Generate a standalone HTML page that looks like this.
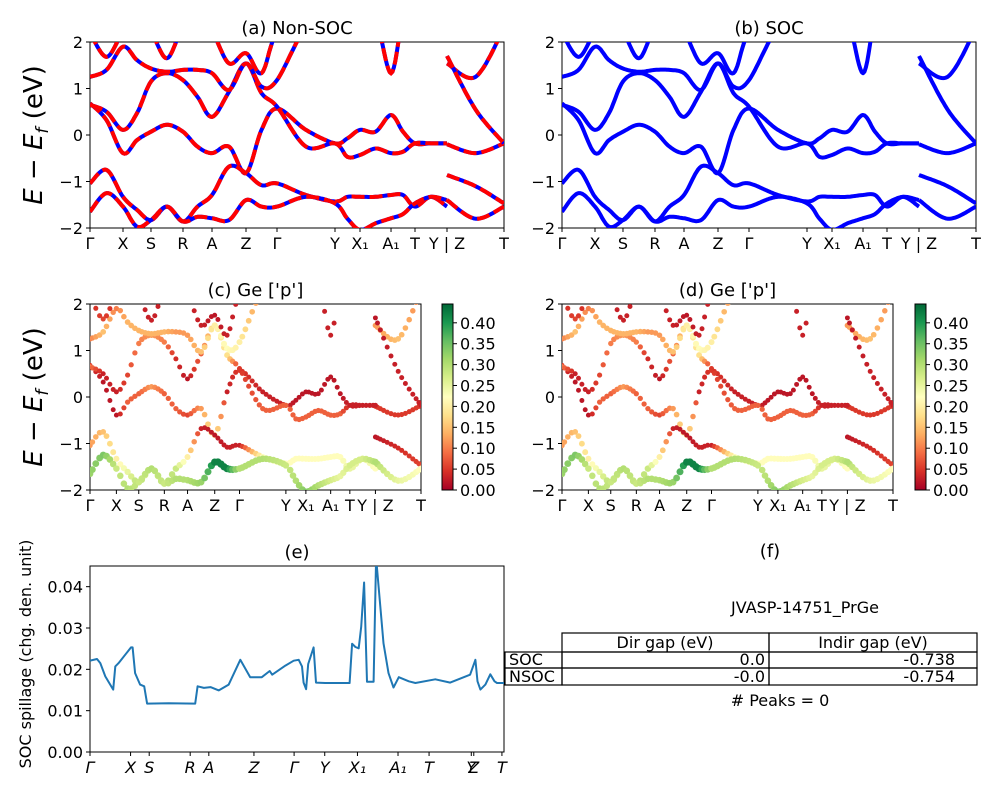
<!DOCTYPE html>
<html><head><meta charset="utf-8">
<style>
html,body{margin:0;padding:0;background:#fff;}
svg{display:block;font-family:"DejaVu Sans","Liberation Sans",sans-serif;}
</style></head>
<body>
<svg id="fig" width="1000" height="800" viewBox="0 0 1000 800" xmlns="http://www.w3.org/2000/svg">
<defs>
<clipPath id="clipA"><rect x="90" y="42" width="414" height="186"/></clipPath>
<clipPath id="clipB"><rect x="562" y="42" width="414" height="186"/></clipPath>
<clipPath id="clipC"><rect x="90" y="304" width="331" height="186"/></clipPath>
<clipPath id="clipD"><rect x="562" y="304" width="331" height="186"/></clipPath>
<clipPath id="clipE"><rect x="90" y="566" width="414" height="186"/></clipPath>
<linearGradient id="cmap" x1="0" y1="1" x2="0" y2="0">
<stop offset="0" stop-color="#a50026"/><stop offset="0.1" stop-color="#d73027"/><stop offset="0.2" stop-color="#f46d43"/><stop offset="0.3" stop-color="#fdae61"/><stop offset="0.4" stop-color="#fee08b"/><stop offset="0.5" stop-color="#ffffbf"/><stop offset="0.6" stop-color="#d9ef8b"/><stop offset="0.7" stop-color="#a6d96a"/><stop offset="0.8" stop-color="#66bd63"/><stop offset="0.9" stop-color="#1a9850"/><stop offset="1" stop-color="#006837"/>
</linearGradient>
</defs>
<g id="layer"></g>

<!-- panel f -->
<g font-size="16">
<text x="770" y="557" text-anchor="middle" font-size="18">(f)</text>
<text x="805" y="613" text-anchor="middle">JVASP-14751_PrGe</text>
<g fill="none" stroke="#000" stroke-width="1.2">
<rect x="562" y="633" width="207" height="19"/><rect x="769" y="633" width="208" height="19"/>
<rect x="505" y="652" width="57" height="16"/><rect x="562" y="652" width="207" height="16"/><rect x="769" y="652" width="208" height="16"/>
<rect x="505" y="668" width="57" height="17"/><rect x="562" y="668" width="207" height="17"/><rect x="769" y="668" width="208" height="17"/>
</g>
<text x="665" y="648" text-anchor="middle">Dir gap (eV)</text>
<text x="873" y="648" text-anchor="middle">Indir gap (eV)</text>
<text x="509" y="665">SOC</text>
<text x="765" y="665" text-anchor="end">0.0</text>
<text x="955" y="665" text-anchor="end">-0.738</text>
<text x="509" y="682">NSOC</text>
<text x="765" y="682" text-anchor="end">-0.0</text>
<text x="955" y="682" text-anchor="end">-0.754</text>
<text x="780" y="706" text-anchor="middle"># Peaks = 0</text>
</g>
</svg>
<script>
// ---- data ----
const kTickLabels = ["Γ","X","S","R","A","Z","Γ","Y","X₁","A₁","T","Y | Z","T"];
const kTicks = [0,0.0797,0.1473,0.2246,0.2947,0.3768,0.4517,0.5918,0.6522,0.7271,0.7850,0.8623,1];
const energyTicks = [2,1,0,-1,-2];
// band energies (eV) at grid: Γ m X m S m R m A m Z m Γ m Y m X1 m A1 m T m Y | Z m T
const bandA = [0.68,0.32,-0.39,-0.11,0.07,0.22,0.07,-0.25,-0.39,-0.25,-0.82,0.11,0.57,0.11,-0.18,-0.07,0.11,0.07,0.43,0.07,-0.18,-0.18,-0.18,-0.2,-0.39,-0.18];
const bandB = [0.65,0.5,0.11,0.47,1.15,1.33,1.18,0.82,0.39,0.93,1.54,0.9,0.61,-0.25,-0.18,-0.47,-0.43,-0.29,-0.39,-0.36,-0.18,-0.18,-0.18,-0.86,-1.1,-1.47];
const bandC = [-1.04,-0.75,-1.33,-1.61,-1.83,-1.54,-1.86,-1.54,-1.29,-0.68,-0.82,-1.08,-1.04,-1.29,-1.43,-1.33,-1.33,-1.33,-1.29,-1.29,-1.54,-1.33,-1.54,-1.4,-1.8,-1.54];
const bandD = [-1.65,-1.25,-1.54,-1.97,-1.83,-1.54,-1.86,-1.76,-1.79,-1.83,-1.4,-1.54,-1.54,-1.33,-1.47,-1.8,-2.04,-1.9,-1.79,-1.7,-1.47,-1.33,-1.4,-2.1,-2.1,-2.1];
const bandE = [1.25,1.4,1.9,1.61,1.43,1.36,1.4,1.4,1.33,0.97,1.54,1.04,1.18,2.3,2.5,2.5,2.5,2.5,2.5,2.5,2.5,2.5,2.5,1.54,1.25,2.3];
const bandF = [2.2,1.68,2.2,2.3,2.2,1.65,2.3,2.2,2.2,1.54,1.76,1.33,2.2,2.5,2.5,2.5,2.5,2.5,1.33,2.5,2.5,2.5,2.5,1.7,0.55,-0.18];
// Ge p-orbital weights for each band
const wA = [0.05,0.02,0.02,0.08,0.08,0.12,0.08,0.08,0.06,0.12,0.2,0.03,0.05,0.03,0.03,0.02,0.02,0.02,0.02,0.02,0.03,0.03,0.03,0.05,0.05,0.05];
const wB = [0.1,0.03,0.03,0.06,0.1,0.12,0.1,0.04,0.02,0.08,0.2,0.18,0.05,0.08,0.08,0.08,0.08,0.08,0.08,0.08,0.03,0.03,0.03,0.02,0.04,0.06];
const wC = [0.12,0.15,0.2,0.25,0.3,0.25,0.3,0.28,0.2,0.03,0.02,0.03,0.03,0.22,0.22,0.22,0.22,0.22,0.22,0.22,0.25,0.25,0.22,0.3,0.25,0.22];
const wD = [0.32,0.34,0.28,0.3,0.28,0.3,0.28,0.3,0.3,0.32,0.42,0.42,0.3,0.3,0.28,0.3,0.34,0.3,0.27,0.25,0.27,0.27,0.3,0.3,0.3,0.3];
const wE = [0.1,0.15,0.1,0.14,0.14,0.14,0.14,0.12,0.12,0.15,0.2,0.22,0.2,0.1,0.1,0.1,0.1,0.1,0.1,0.1,0.1,0.1,0.1,0.12,0.15,0.1];
const wF = [0.03,0.06,0.03,0.03,0.03,0.03,0.03,0.03,0.03,0.03,0.02,0.03,0.03,0.03,0.03,0.03,0.03,0.03,0.03,0.03,0.03,0.03,0.03,0.02,0.03,0.03];
const cbTicks = [0,0.05,0.1,0.15,0.2,0.25,0.3,0.35,0.4];
// spillage
const spillK = [0,0.017,0.025,0.037,0.056,0.061,0.069,0.099,0.103,0.109,0.121,0.131,0.138,0.19,0.254,0.26,0.275,0.291,0.311,0.335,0.363,0.387,0.415,0.434,0.44,0.472,0.492,0.504,0.512,0.516,0.522,0.527,0.54,0.546,0.568,0.627,0.633,0.641,0.649,0.655,0.662,0.669,0.685,0.691,0.697,0.709,0.721,0.733,0.746,0.77,0.786,0.834,0.87,0.918,0.931,0.936,0.943,0.955,0.967,0.977,0.983,1];
const spillV = [0.0221,0.0225,0.0215,0.0183,0.0151,0.0207,0.0215,0.0253,0.0253,0.0191,0.0163,0.0159,0.0117,0.0118,0.0117,0.0159,0.0155,0.0157,0.0149,0.0163,0.0223,0.0181,0.0181,0.0196,0.0187,0.0209,0.0221,0.0223,0.0207,0.0168,0.0152,0.0213,0.0253,0.0168,0.0167,0.0167,0.0262,0.0254,0.0251,0.0303,0.041,0.017,0.017,0.047,0.04,0.0263,0.0191,0.0156,0.0181,0.0171,0.0167,0.0176,0.0168,0.0187,0.0223,0.0171,0.0151,0.0163,0.0188,0.0171,0.0167,0.0167];
const spillTickLabels = ["Γ","X","S","R","A","Z","Γ","Y","X₁","A₁","T","Y","Z","T"];
const spillTicks = [0,0.098,0.143,0.242,0.287,0.396,0.493,0.567,0.646,0.744,0.819,0.921,0.927,0.995];
const spillYTicks = [0,0.01,0.02,0.03,0.04];

// ---- helpers ----
const NS="http://www.w3.org/2000/svg";
const layer=document.getElementById('layer');
function mk(tag,attrs,parent){const e=document.createElementNS(NS,tag);for(const k in attrs)e.setAttribute(k,attrs[k]);(parent||layer).appendChild(e);return e;}
const bands=[bandA,bandB,bandC,bandD,bandE,bandF];
const weights=[wA,wB,wC,wD,wE,wF];
function gridK(){const g=[];for(let i=0;i<12;i++){g.push(kTicks[i]);if(i<11)g.push((kTicks[i]+kTicks[i+1])/2);}g.push(kTicks[11]);g.push((kTicks[11]+kTicks[12])/2);g.push(kTicks[12]);return g;}
const GK=gridK();
function cr(p0,p1,p2,p3,t){const t2=t*t,t3=t2*t;return 0.5*(2*p1+(-p0+p2)*t+(2*p0-5*p1+4*p2-p3)*t2+(-p0+3*p1-3*p2+p3)*t3);}
function sampleSeg(ks,es,ws,dens){const out=[];const n=ks.length;for(let i=0;i<n-1;i++){const m=Math.max(2,Math.round((ks[i+1]-ks[i])*dens));for(let j=0;j<m;j++){const t=j/m;const a=Math.max(i-1,0),d=Math.min(i+2,n-1);out.push([cr(ks[a],ks[i],ks[i+1],ks[d],t),cr(es[a],es[i],es[i+1],es[d],t),ws[i]+(ws[i+1]-ws[i])*t]);}}out.push([ks[n-1],es[n-1],ws[n-1]]);return out;}
function bandSegs(b,w,dens){return [sampleSeg(GK.slice(0,23),b.slice(0,23),w.slice(0,23),dens),sampleSeg(GK.slice(23),b.slice(23),w.slice(23),dens)];}
const stops=[[165,0,38],[215,48,39],[244,109,67],[253,174,97],[254,224,139],[255,255,191],[217,239,139],[166,217,106],[102,189,99],[26,152,80],[0,104,55]];
function cmap(v){let t=Math.max(0,Math.min(1,v/0.445))*10;const i=Math.min(9,Math.floor(t)),f=t-i;const a=stops[i],b=stops[i+1];return `rgb(${Math.round(a[0]+(b[0]-a[0])*f)},${Math.round(a[1]+(b[1]-a[1])*f)},${Math.round(a[2]+(b[2]-a[2])*f)})`;}

function axesFrame(P,name,title){
  const g=mk('g',{});
  
  
  const t=mk('text',{x:(P.x0+P.x1)/2,y:P.y0-8,'text-anchor':'middle','font-size':18},g);t.textContent=title;
  
  
  mk('rect',{x:P.x0,y:P.y0,width:P.x1-P.x0,height:P.y1-P.y0,fill:'none',stroke:'#000','stroke-width':1},g);
  return g;
}
function bandAxes(P,g,ylabel){
  const ys=e=>P.y0+(2-e)/4*(P.y1-P.y0);
  energyTicks.forEach(e=>{mk('line',{x1:P.x0-4,x2:P.x0,y1:ys(e),y2:ys(e),stroke:'#000'},g);
    const t=mk('text',{x:P.x0-7,y:ys(e)+6,'text-anchor':'end','font-size':16},g);t.textContent=(e<0?'−':'')+Math.abs(e);
    
    });
  kTicks.forEach((k,i)=>{const x=P.x0+k*(P.x1-P.x0);mk('line',{x1:x,x2:x,y1:P.y1,y2:P.y1+4,stroke:'#000'},g);
    const t=mk('text',{x:x,y:P.y1+21,'text-anchor':'middle','font-size':16},g);t.textContent=kTickLabels[i];
    
    });
  if(ylabel){const t=mk('text',{transform:`translate(42,${(P.y0+P.y1)/2}) rotate(-90)`,'text-anchor':'middle','font-size':26},g);
    t.innerHTML='<tspan font-style="italic">E</tspan> − <tspan font-style="italic">E</tspan><tspan font-style="italic" font-size="17" dy="6">f</tspan><tspan dy="-6"> (eV)</tspan>';
    
    }
}
function linePanel(P,clip,name,title,dashed){
  const g=axesFrame(P,name,title);bandAxes(P,g,P.x0<300);
  const xs=k=>P.x0+k*(P.x1-P.x0), ys=e=>P.y0+(2-e)/4*(P.y1-P.y0);
  const cg=mk('g',{'clip-path':`url(#${clip})`},g);
  bands.forEach((b,bi)=>{bandSegs(b,weights[bi],300).forEach(seg=>{
    const d=seg.map((p,i)=>(i?'L':'M')+xs(p[0]).toFixed(1)+','+ys(p[1]).toFixed(1)).join('');
    const l=mk('path',{d:d,fill:'none',stroke:'#0000ff','stroke-width':4,'stroke-linejoin':'round'},cg);
    
    
    if(dashed){const r=mk('path',{d:d,fill:'none',stroke:'#ff0000','stroke-width':4,'stroke-dasharray':'13 5'},cg);
      
      }
  });});
}
function scatterPanel(P,clip,name,title,cbx){
  const g=axesFrame(P,name,title);bandAxes(P,g,P.x0<300);
  const xs=k=>P.x0+k*(P.x1-P.x0), ys=e=>P.y0+(2-e)/4*(P.y1-P.y0);
  const cg=mk('g',{'clip-path':`url(#${clip})`},g);
  bands.forEach((b,bi)=>{bandSegs(b,weights[bi],95).forEach(seg=>{seg.forEach(p=>{
    const c=mk('circle',{cx:xs(p[0]).toFixed(1),cy:ys(p[1]).toFixed(1),r:2.4+p[2]*3,fill:cmap(p[2])},cg);
    
    });});});
  const cb=mk('g',{},g);
  
  
  mk('rect',{x:cbx,y:P.y0,width:11,height:P.y1-P.y0,fill:'url(#cmap)',stroke:'#000','stroke-width':1},cb);
  cbTicks.forEach(v=>{const y=P.y1-v/0.445*(P.y1-P.y0);mk('line',{x1:cbx+11,x2:cbx+15,y1:y,y2:y,stroke:'#000'},cb);
    const t=mk('text',{x:cbx+18,y:y+6,'font-size':16},cb);t.textContent=v.toFixed(2);
    
    });
}
linePanel({x0:90,x1:504,y0:42,y1:228},'clipA','panel-a','(a) Non-SOC',true);
linePanel({x0:562,x1:976,y0:42,y1:228},'clipB','panel-b','(b) SOC',false);
scatterPanel({x0:90,x1:421,y0:304,y1:490},'clipC','panel-c',"(c)  Ge ['p']",442);
scatterPanel({x0:562,x1:893,y0:304,y1:490},'clipD','panel-d',"(d) Ge ['p']",915);

// panel e
(function(){
  const P={x0:90,x1:504,y0:566,y1:752};
  const g=axesFrame(P,'panel-e','(e)');
  const xs=k=>P.x0+k*(P.x1-P.x0), ys=v=>P.y1-v/0.045*(P.y1-P.y0);
  spillYTicks.forEach(v=>{mk('line',{x1:P.x0-4,x2:P.x0,y1:ys(v),y2:ys(v),stroke:'#000'},g);
    const t=mk('text',{x:P.x0-7,y:ys(v)+6,'text-anchor':'end','font-size':16},g);t.textContent=v.toFixed(2);
    
    });
  spillTicks.forEach((k,i)=>{mk('line',{x1:xs(k),x2:xs(k),y1:P.y1,y2:P.y1+4,stroke:'#000'},g);
    const t=mk('text',{x:xs(k),y:P.y1+21,'text-anchor':'middle','font-size':16,'font-style':'italic'},g);t.textContent=spillTickLabels[i];
    
    });
  const cg=mk('g',{'clip-path':'url(#clipE)'},g);
  const d=spillK.map((k,i)=>(i?'L':'M')+xs(k).toFixed(1)+','+ys(spillV[i]).toFixed(1)).join('');
  const l=mk('path',{d:d,fill:'none',stroke:'#1f77b4','stroke-width':2,'stroke-linejoin':'round'},cg);
  
  
  const t=mk('text',{transform:`translate(31,${(P.y0+P.y1)/2-5}) rotate(-90)`,'text-anchor':'middle','font-size':16},g);
  t.textContent='SOC spillage (chg. den. unit)';
  
  
})();
</script>
</body></html>
